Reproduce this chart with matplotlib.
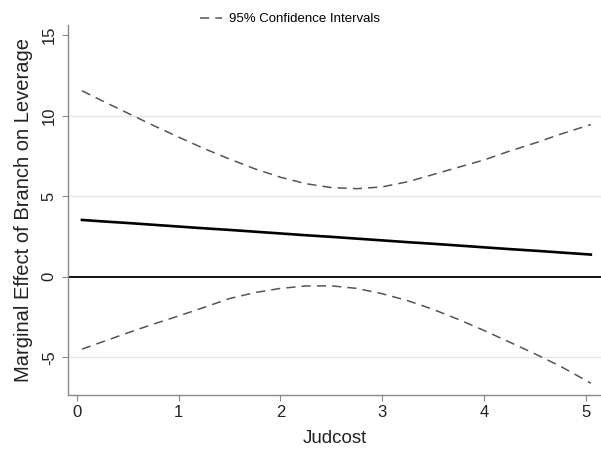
import matplotlib
matplotlib.use("Agg")
import matplotlib.pyplot as plt

plt.rcParams['font.family'] = ['Liberation Sans', 'DejaVu Sans']

# values
judcost = [0.05, 0.25, 0.5, 0.75, 1.0, 1.25, 1.5, 1.75, 2.0, 2.25, 2.5,
           2.75, 3.0, 3.25, 3.5, 3.75, 4.0, 4.25, 4.5, 4.75, 5.05]
effect = [3.53, 3.44, 3.34, 3.23, 3.12, 3.01, 2.91, 2.80, 2.69, 2.58, 2.48,
          2.37, 2.26, 2.15, 2.05, 1.94, 1.83, 1.72, 1.62, 1.51, 1.38]
ci_upper = [11.55, 10.92, 10.16, 9.40, 8.67, 7.96, 7.31, 6.70, 6.18, 5.78, 5.54,
            5.47, 5.58, 5.90, 6.35, 6.80, 7.25, 7.80, 8.30, 8.85, 9.45]
ci_lower = [-4.49, -4.04, -3.48, -2.94, -2.43, -1.90, -1.35, -0.98, -0.72, -0.57, -0.56,
            -0.72, -1.05, -1.48, -2.02, -2.65, -3.33, -4.05, -4.78, -5.55, -6.60]
xticks = [0, 1, 2, 3, 4, 5]
yticks = [-5, 0, 5, 10, 15]

fig = plt.figure(figsize=(6.01, 4.59), dpi=100)
ax = fig.add_axes([0.113, 0.139, 0.887, 0.8065])

# light grid + zero line
for y in [-5, 5, 10]:
    ax.axhline(y, color='#e6e6e6', lw=1.0, zorder=0)
ax.axhline(0, color='black', lw=1.3, zorder=1)

ax.plot(judcost, effect, color='black', lw=1.9, zorder=3)
ax.plot(judcost, ci_upper, color='#555555', lw=1.1, dashes=(6, 4), zorder=2,
        label='95% Confidence Intervals')
ax.plot(judcost, ci_lower, color='#555555', lw=1.1, dashes=(6, 4), zorder=2)

ax.set_xlim(-0.088, 5.15)
ax.set_ylim(-7.35, 15.63)
ax.set_xticks(xticks)
ax.set_yticks(yticks)
ax.set_yticklabels([str(t) for t in yticks], rotation=90, va='center')

for s in ['top', 'right']:
    ax.spines[s].set_visible(False)
for s in ['left', 'bottom']:
    ax.spines[s].set_color('#888888')
    ax.spines[s].set_linewidth(1.0)
ax.tick_params(axis='both', direction='out', length=4, width=0.8, color='#888888',
               labelsize=12, labelcolor='#222222')
ax.tick_params(axis='y', pad=4)
ax.tick_params(axis='x', pad=3)

ax.set_xlabel('Judcost', fontsize=13.5, color='#222222', labelpad=7)
ax.set_ylabel('Marginal Effect of Branch on Leverage', fontsize=14.5, color='#222222',
              labelpad=6)

fig.legend(loc='center', bbox_to_anchor=(0.482, 0.958), frameon=False, fontsize=9.5,
           handlelength=1.7, handletextpad=0.5)

fig.savefig('out.png', dpi=100)
